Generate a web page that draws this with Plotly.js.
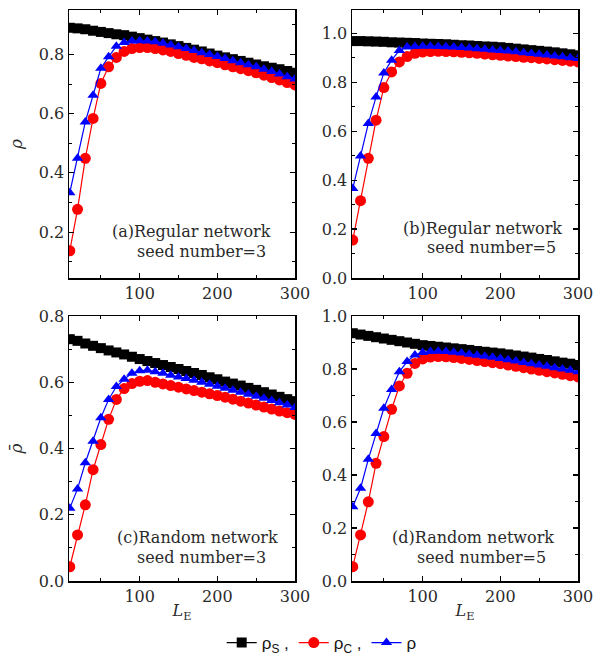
<!DOCTYPE html>
<html>
<head>
<meta charset="utf-8">
<script src="https://cdn.plot.ly/plotly-3.0.1.min.js"></script>
<style>html,body{margin:0;padding:0;background:#fff}#chart{width:607px;height:666px}</style>
</head>
<body>
<div id="chart"></div>
<script>
// L_E values (x axis)
const LE = [10,20,30,40,50,60,70,80,90,100,110,120,130,140,150,160,170,180,190,200,210,220,230,240,250,260,270,280,290,300];

// (a) Regular network, seed number = 3
const aRhoS = [0.890,0.888,0.885,0.880,0.876,0.872,0.868,0.865,0.860,0.855,0.850,0.845,0.840,0.834,0.828,0.822,0.816,0.810,0.803,0.796,0.790,0.784,0.778,0.772,0.766,0.760,0.755,0.750,0.744,0.738];
const aRhoC = [0.137,0.277,0.449,0.584,0.702,0.758,0.790,0.810,0.820,0.823,0.823,0.820,0.815,0.810,0.803,0.797,0.790,0.785,0.778,0.772,0.765,0.758,0.752,0.745,0.738,0.730,0.722,0.714,0.705,0.697];
const aRho  = [0.333,0.449,0.572,0.662,0.753,0.792,0.828,0.840,0.845,0.846,0.845,0.843,0.838,0.832,0.826,0.820,0.813,0.806,0.800,0.793,0.786,0.779,0.772,0.765,0.758,0.750,0.742,0.734,0.725,0.717];

// (b) Regular network, seed number = 5
const bRhoS = [0.968,0.968,0.967,0.966,0.965,0.963,0.962,0.961,0.960,0.958,0.957,0.956,0.955,0.953,0.951,0.950,0.948,0.946,0.945,0.943,0.940,0.937,0.934,0.931,0.928,0.925,0.922,0.918,0.914,0.910];
const bRhoC = [0.155,0.316,0.489,0.645,0.778,0.842,0.883,0.905,0.918,0.923,0.925,0.926,0.925,0.924,0.922,0.920,0.918,0.915,0.912,0.910,0.907,0.905,0.902,0.900,0.897,0.895,0.892,0.889,0.886,0.883];
const bRho  = [0.366,0.498,0.631,0.740,0.838,0.890,0.930,0.944,0.946,0.947,0.947,0.946,0.945,0.944,0.942,0.940,0.937,0.935,0.932,0.930,0.927,0.924,0.920,0.917,0.914,0.911,0.907,0.904,0.900,0.897];

// (c) Random network, seed number = 3
const cRhoS = [0.730,0.725,0.717,0.710,0.703,0.696,0.690,0.684,0.677,0.670,0.664,0.658,0.652,0.646,0.640,0.634,0.628,0.622,0.615,0.609,0.602,0.596,0.590,0.583,0.577,0.570,0.563,0.556,0.549,0.543];
const cRhoC = [0.043,0.139,0.230,0.336,0.412,0.488,0.548,0.581,0.596,0.603,0.605,0.600,0.595,0.590,0.585,0.580,0.575,0.570,0.565,0.560,0.555,0.549,0.543,0.537,0.531,0.525,0.519,0.513,0.508,0.503];
const cRho  = [0.220,0.278,0.357,0.422,0.493,0.548,0.587,0.609,0.627,0.635,0.636,0.632,0.627,0.621,0.616,0.611,0.606,0.600,0.594,0.588,0.582,0.576,0.570,0.564,0.558,0.552,0.545,0.538,0.531,0.524];

// (d) Random network, seed number = 5
const dRhoS = [0.935,0.930,0.925,0.920,0.915,0.910,0.905,0.900,0.895,0.890,0.887,0.884,0.881,0.878,0.875,0.872,0.868,0.865,0.862,0.859,0.855,0.851,0.847,0.843,0.838,0.834,0.829,0.824,0.820,0.815];
const dRhoC = [0.054,0.174,0.299,0.444,0.545,0.648,0.736,0.784,0.821,0.838,0.845,0.847,0.846,0.843,0.840,0.836,0.832,0.828,0.824,0.820,0.815,0.810,0.805,0.800,0.795,0.790,0.785,0.780,0.775,0.770];
const dRho  = [0.280,0.350,0.459,0.557,0.652,0.723,0.790,0.828,0.853,0.862,0.866,0.867,0.866,0.863,0.860,0.856,0.852,0.848,0.844,0.840,0.835,0.830,0.825,0.820,0.815,0.810,0.805,0.800,0.795,0.790];

const panelLine1 = ["(a)Regular network","(b)Regular network","(c)Random network","(d)Random network"];
const panelLine2 = ["seed number=3","seed number=5","seed number=3","seed number=5"];
const seriesNames = ["ρ<sub>S</sub> ,","ρ<sub>C</sub> ,","ρ"];

const panels = [
  {s:aRhoS, c:aRhoC, r:aRho, xa:'x',  ya:'y'},
  {s:bRhoS, c:bRhoC, r:bRho, xa:'x2', ya:'y2'},
  {s:cRhoS, c:cRhoC, r:cRho, xa:'x3', ya:'y3'},
  {s:dRhoS, c:dRhoC, r:dRho, xa:'x4', ya:'y4'}
];

const traces = [];
panels.forEach((p, i) => {
  const first = i === 0;
  traces.push({x:LE, y:p.s, xaxis:p.xa, yaxis:p.ya, type:'scatter', mode:'lines+markers',
    name:seriesNames[0], legendgroup:'s', showlegend:first,
    line:{color:'#000000', width:1.2}, marker:{symbol:'square', size:10, color:'#000000'}});
  traces.push({x:LE, y:p.c, xaxis:p.xa, yaxis:p.ya, type:'scatter', mode:'lines+markers',
    name:seriesNames[1], legendgroup:'c', showlegend:first,
    line:{color:'#ff0000', width:1.2}, marker:{symbol:'circle', size:11, color:'#ff0000'}});
  traces.push({x:LE, y:p.r, xaxis:p.xa, yaxis:p.ya, type:'scatter', mode:'lines+markers',
    name:seriesNames[2], legendgroup:'r', showlegend:first,
    line:{color:'#0000ff', width:1.2}, marker:{symbol:'triangle-up', size:10, color:'#0000ff'}});
});

const W = 607, H = 666;
const xL = [69/W, 295/W], xR = [352/W, 578/W];
const yT = [1-278/H, 1-10/H], yB = [1-581/H, 1-316/H];
const serif = 'DejaVu Serif, Liberation Serif, serif';
const txt = '#2a2a2a';

function xax(dom, anchor, showTitle){
  const ax = {domain:dom, anchor:anchor, range:[9,300], tickvals:[100,200,300], ticktext:['100','200','300'],
    ticks:'inside', ticklen:5, tickwidth:1.2, tickcolor:'#000',
    minor:{tickvals:[50,150,250], ticks:'inside', ticklen:3, tickwidth:1, tickcolor:'#000'},
    showline:true, linecolor:'#000', linewidth:1.5, mirror:'ticks', showgrid:false, zeroline:false,
    tickfont:{family:serif, size:16, color:txt}};
  if (showTitle) ax.title = {text:'<i>L</i><sub>E</sub>', font:{family:serif, size:16, color:txt}, standoff:0};
  return ax;
}
function yax(dom, anchor, range, tv, minorTv, title){
  const ax = {domain:dom, anchor:anchor, range:range, tickvals:tv, ticktext:tv.map(v=>v.toFixed(1)),
    ticks:'inside', ticklen:5, tickwidth:1.2, tickcolor:'#000',
    minor:{tickvals:minorTv, ticks:'inside', ticklen:3, tickwidth:1, tickcolor:'#000'},
    showline:true, linecolor:'#000', linewidth:1.5, mirror:'ticks', showgrid:false, zeroline:false,
    tickfont:{family:serif, size:16, color:txt}};
  if (title) ax.title = {text:title, font:{family:serif, size:17, color:txt}, standoff:12};
  return ax;
}

const annX1 = [192, 482, 197, 473], annY1 = [232, 229, 537, 537];
const annX2 = [201, 491, 202, 481], annY2 = [251, 247, 557, 557];
const annotations = [];
for (let i=0;i<4;i++){
  annotations.push({xref:'paper', yref:'paper', x:annX1[i]/W, y:1-annY1[i]/H, xanchor:'center', yanchor:'middle',
    text:panelLine1[i], showarrow:false, font:{family:serif, size:16, color:txt}});
  annotations.push({xref:'paper', yref:'paper', x:annX2[i]/W, y:1-annY2[i]/H, xanchor:'center', yanchor:'middle',
    text:panelLine2[i], showarrow:false, font:{family:serif, size:16, color:txt}});
}

const layout = {
  width:W, height:H, margin:{l:0, r:0, t:0, b:0}, paper_bgcolor:'#fff', plot_bgcolor:'#fff',
  showlegend:true,
  legend:{orientation:'h', x:0.53, xanchor:'center', y:1-643/H, yanchor:'middle',
    font:{family:'Liberation Sans, Arial, sans-serif', size:17, color:'#111'}, itemwidth:30, traceorder:'normal'},
  xaxis: xax(xL, 'y', false),
  xaxis2: xax(xR, 'y2', false),
  xaxis3: xax(xL, 'y3', true),
  xaxis4: xax(xR, 'y4', true),
  yaxis: yax(yT, 'x', [0.045, 0.95], [0.2,0.4,0.6,0.8], [0.1,0.3,0.5,0.7,0.9], '<i>ρ</i>'),
  yaxis2: yax(yT, 'x2', [0, 1.095], [0,0.2,0.4,0.6,0.8,1.0], [0.1,0.3,0.5,0.7,0.9], null),
  yaxis3: yax(yB, 'x3', [0, 0.8], [0,0.2,0.4,0.6,0.8], [0.1,0.3,0.5,0.7], '<i>ρ̄</i>'),
  yaxis4: yax(yB, 'x4', [0, 1.0], [0,0.2,0.4,0.6,0.8,1.0], [0.1,0.3,0.5,0.7,0.9], null),
  annotations: annotations
};

Plotly.newPlot('chart', traces, layout, {displayModeBar:false, staticPlot:true});
</script>
</body>
</html>
